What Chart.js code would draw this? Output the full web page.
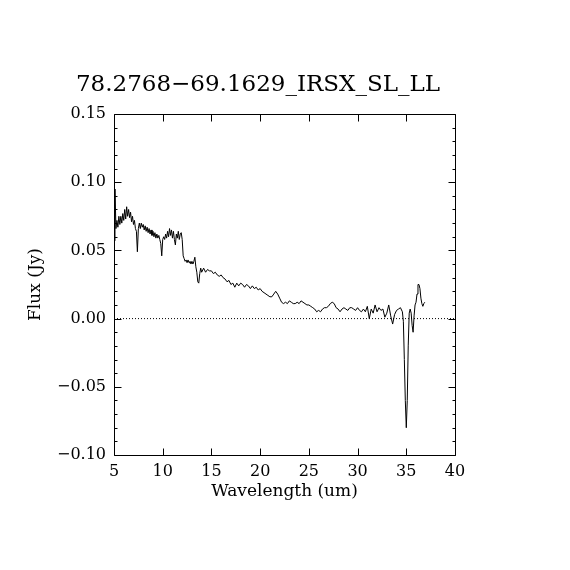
<!DOCTYPE html>
<html><head><meta charset="utf-8">
<script src="https://cdn.jsdelivr.net/npm/chart.js@4"></script>
<style>html,body{margin:0;padding:0;background:#fff}#wrap{width:570px;height:570px}</style>
</head><body><div id="wrap"><canvas id="c" width="570" height="570"></canvas></div>
<script>
const titleText = '78.2768\u221269.1629_IRSX_SL_LL';
const xAxisLabel = 'Wavelength (um)';
const yAxisLabel = 'Flux (Jy)';
const xTicks = [5, 10, 15, 20, 25, 30, 35, 40];
const yTicks = [-0.10, -0.05, 0.00, 0.05, 0.10, 0.15];
const yMinorTicks = [-0.09,-0.08,-0.07,-0.06,-0.04,-0.03,-0.02,-0.01,0.01,0.02,0.03,0.04,0.06,0.07,0.08,0.09,0.11,0.12,0.13,0.14];
const zeroLineX = [5, 40];
const zeroLineY = [0, 0];

const wavelength = [
 5.0,5.1,5.2,5.3,5.4,5.5,5.6,5.7,5.8,5.9,
 6.0,6.1,6.2,6.3,6.4,6.5,6.6,6.7,6.8,6.9,
 7.0,7.1,7.2,7.3,7.4,7.5,7.6,7.7,7.8,7.9,
 8.0,8.1,8.2,8.3,8.4,8.5,8.6,8.7,8.8,8.9,
 9.0,9.1,9.2,9.3,9.4,9.5,9.6,9.7,9.8,9.9,
 10.0,10.1,10.2,10.3,10.4,10.5,10.6,10.7,10.8,10.9,
 11.0,11.1,11.2,11.3,11.4,11.5,11.6,11.7,11.8,11.9,
 12.0,12.1,12.2,12.3,12.4,12.5,12.6,12.7,12.8,12.9,
 13.0,13.1,13.2,13.3,13.4,13.5,13.6,13.7,13.8,13.9,
 14.0,
 14.2,14.4,14.6,14.8,15.0,15.2,15.4,15.6,15.8,16.0,
 16.2,16.4,16.6,16.8,17.0,17.2,17.4,17.6,17.8,18.0,
 18.2,18.4,18.6,18.8,19.0,19.2,19.4,19.6,19.8,20.0,
 20.2,20.4,20.6,20.8,21.0,21.2,21.4,21.6,21.8,22.0,
 22.2,22.4,22.6,22.8,23.0,23.2,23.4,23.6,23.8,24.0,
 24.2,24.4,24.6,24.8,25.0,25.2,25.4,25.6,25.8,26.0,
 26.2,26.4,26.6,26.8,27.0,27.2,27.4,27.6,27.8,28.0,
 28.2,28.4,28.6,28.8,29.0,29.2,29.4,29.6,29.8,30.0,
 30.2,30.4,30.6,30.8,31.0,31.2,31.4,31.6,31.8,32.0,
 32.2,32.4,32.6,32.8,33.0,33.2,33.4,33.6,33.8,34.0,
 34.2,34.4,
 34.6,34.7,34.8,34.9,35.0,35.1,35.2,35.3,35.4,35.5,
 35.6,35.7,35.8,35.9,36.0,36.1,36.2,36.3,36.4,36.5,
 36.6,36.7,36.8,36.9
];
const flux = [
 0.057,0.095,0.066,0.072,0.067,0.075,0.069,0.075,0.070,0.077,
 0.072,0.080,0.073,0.082,0.075,0.080,0.074,0.078,0.071,0.075,
 0.069,0.072,0.066,0.064,0.049,0.066,0.070,0.066,0.070,0.067,
 0.069,0.065,0.068,0.064,0.067,0.063,0.066,0.062,0.065,0.061,
 0.064,0.060,0.063,0.059,0.062,0.059,0.061,0.058,0.055,0.046,
 0.058,0.060,0.058,0.062,0.059,0.064,0.060,0.066,0.061,0.065,
 0.059,0.064,0.058,0.054,0.062,0.059,0.064,0.058,0.062,0.063,
 0.058,0.046,0.044,0.042,0.043,0.041,0.043,0.041,0.042,0.040,
 0.042,0.040,0.042,0.045,0.038,0.034,0.027,0.026,0.033,0.037,
 0.034,
 0.037,0.034,0.036,0.035,0.035,0.033,0.034,0.032,0.031,0.032,
 0.030,0.029,0.027,0.028,0.025,0.026,0.023,0.026,0.024,0.026,
 0.025,0.023,0.025,0.024,0.022,0.024,0.022,0.023,0.021,0.022,
 0.020,0.019,0.018,0.017,0.016,0.016,0.018,0.020,0.018,0.015,
 0.012,0.011,0.012,0.011,0.013,0.012,0.011,0.011,0.012,0.011,
 0.013,0.012,0.011,0.010,0.010,0.009,0.008,0.007,0.005,0.006,
 0.005,0.007,0.008,0.008,0.009,0.011,0.012,0.011,0.008,0.007,
 0.005,0.007,0.008,0.007,0.006,0.008,0.008,0.007,0.006,0.008,
 0.006,0.005,0.007,0.005,0.009,0.000,0.007,0.004,0.010,0.005,
 0.008,0.006,0.007,0.001,0.004,0.010,0.002,-0.004,0.003,0.006,
 0.007,0.008,
 0.005,-0.002,-0.030,-0.060,-0.080,-0.060,-0.020,0.004,0.007,0.004,
 -0.005,-0.010,0.002,0.010,0.012,0.018,0.025,0.025,0.022,0.015,
 0.011,0.009,0.011,0.012
];

const FONT = '"DejaVu Serif", "Liberation Serif", serif';

const frame = {
  id: 'frame',
  afterDatasetsDraw(chart) {
    const ctx = chart.ctx, a = chart.chartArea;
    const xs = chart.scales.x, ys = chart.scales.y;
    const L = Math.round(a.left) + 0.5, R = Math.round(a.right) + 0.5;
    const T = Math.round(a.top) + 0.5, B = Math.round(a.bottom) + 0.5;
    ctx.save();
    ctx.strokeStyle = '#000';
    ctx.lineWidth = 1;
    ctx.beginPath();
    ctx.rect(L, T, R - L, B - T);
    ctx.stroke();
    ctx.beginPath();
    xTicks.forEach(v => {
      const px = Math.round(xs.getPixelForValue(v)) + 0.5;
      ctx.moveTo(px, B); ctx.lineTo(px, B - 7);
      ctx.moveTo(px, T); ctx.lineTo(px, T + 7);
    });
    yTicks.forEach(v => {
      const py = Math.round(ys.getPixelForValue(v)) + 0.5;
      ctx.moveTo(L, py); ctx.lineTo(L + 7, py);
      ctx.moveTo(R, py); ctx.lineTo(R - 7, py);
    });
    yMinorTicks.forEach(v => {
      const py = Math.round(ys.getPixelForValue(v)) + 0.5;
      ctx.moveTo(L, py); ctx.lineTo(L + 3, py);
      ctx.moveTo(R, py); ctx.lineTo(R - 3, py);
    });
    ctx.stroke();
    ctx.fillStyle = '#000';
    ctx.font = '23px ' + FONT;
    ctx.textAlign = 'center';
    ctx.textBaseline = 'alphabetic';
    ctx.fillText(titleText, 258, 91);
    ctx.restore();
  }
};

new Chart(document.getElementById('c'), {
  type: 'scatter',
  data: {
    datasets: [
      {
        data: zeroLineX.map((x, i) => ({x: x, y: zeroLineY[i]})),
        showLine: true, borderColor: '#000', borderWidth: 1,
        borderDash: [1, 2], pointRadius: 0, fill: false
      },
      {
        data: wavelength.map((x, i) => ({x: x, y: flux[i]})),
        showLine: true, borderColor: '#000', borderWidth: 1,
        pointRadius: 0, fill: false, tension: 0
      }
    ]
  },
  options: {
    responsive: false,
    animation: false,
    devicePixelRatio: 1,
    layout: {padding: {left: 25, right: 115, top: 114, bottom: 68}},
    plugins: {legend: {display: false}, tooltip: {enabled: false}, title: {display: false}},
    scales: {
      x: {
        type: 'linear', position: 'bottom', min: 5, max: 40,
        afterBuildTicks: s => { s.ticks = xTicks.map(v => ({value: v})); },
        afterFit: s => { s.height = 47; },
        grid: {display: false, drawTicks: false},
        border: {display: false},
        ticks: {color: '#000', font: {family: FONT, size: 16}, padding: 7, maxRotation: 0, autoSkip: false,
                callback: v => String(v)},
        title: {display: true, text: xAxisLabel, color: '#000', font: {family: FONT, size: 17}, padding: 0}
      },
      y: {
        type: 'linear', position: 'left', min: -0.10, max: 0.15,
        afterBuildTicks: s => { s.ticks = yTicks.map(v => ({value: v})); },
        afterFit: s => { s.width = 89; },
        grid: {display: false, drawTicks: false},
        border: {display: false},
        ticks: {color: '#000', font: {family: FONT, size: 16}, padding: 8, autoSkip: false,
                callback: v => (v < -1e-9 ? '\u2212' : '') + Math.abs(v).toFixed(2)},
        title: {display: true, text: yAxisLabel, color: '#000', font: {family: FONT, size: 17}, padding: 0}
      }
    }
  },
  plugins: [frame]
});
</script>
</body></html>
